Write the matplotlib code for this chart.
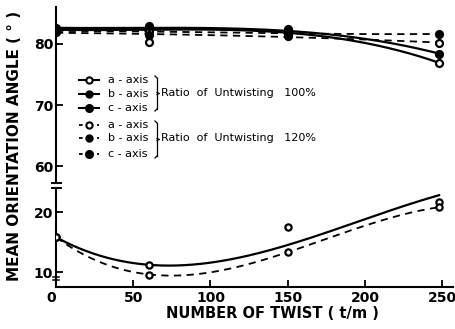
import numpy as np
import matplotlib
matplotlib.use("Agg")
import matplotlib.pyplot as plt
from matplotlib.lines import Line2D

plt.rcParams['font.family'] = ['DejaVu Sans']

# measured twist levels (t/m)
twist = [0, 60, 150, 248]

# orientation angles of the a- and b-axes (upper panel)
a_100 = [82.2, 82.1, 81.6, 76.9]
b_100 = [82.6, 82.9, 82.4, 78.4]
a_120 = [82.0, 80.3, 81.3, 80.2]
b_120 = [82.3, 81.4, 81.6, 81.6]
# hand-fitted trend values at the same twist levels
a_100_fit = [82.3, 82.3, 81.8, 76.9]
b_100_fit = [82.6, 82.6, 82.1, 78.4]
a_120_fit = [81.8, 81.6, 81.1, 80.2]
b_120_fit = [82.1, 82.0, 81.7, 81.6]

# orientation angles of the c-axis (lower panel)
c_100 = [15.8, 11.2, 17.5, 21.7]
c_120 = [15.8, 9.5, 13.3, 20.8]
c_100_fit = [15.8, 11.2, 14.5, 22.8]
c_120_fit = [15.8, 9.6, 13.3, 20.8]

x_ticks = [0, 50, 100, 150, 200, 250]
upper_ticks = [60, 70, 80]
lower_ticks = [10, 20]

W, H = 456, 329
fig = plt.figure(figsize=(W / 100, H / 100), dpi=100)


def fx(px):
    return px / W


def fy(py):
    return 1 - py / H


left, right = fx(56), fx(453)
ax_top = fig.add_axes([left, fy(183), right - left, fy(7) - fy(183)])
ax_bot = fig.add_axes([left, fy(287), right - left, fy(188) - fy(287)])

for ax in (ax_top, ax_bot):
    ax.set_xlim(0, 257)
    ax.spines['top'].set_visible(False)
    ax.spines['right'].set_visible(False)
    ax.spines['left'].set_linewidth(1.5)
    ax.spines['bottom'].set_linewidth(1.5)
    ax.tick_params(direction='in', length=5, width=1.3, labelsize=10, pad=2)
    ax.patch.set_alpha(0)

ax_top.spines['bottom'].set_visible(False)
ax_top.set_xticks([])
ax_top.set_ylim(57.3, 86)
ax_top.set_yticks(upper_ticks)
ax_bot.set_ylim(7.5, 24)
ax_bot.set_yticks(lower_ticks)
ax_bot.set_xticks(x_ticks)
for lab in ax_top.get_yticklabels() + ax_bot.get_yticklabels() + ax_bot.get_xticklabels():
    lab.set_fontweight('bold')
xlabels = ax_bot.get_xticklabels()
xlabels[0].set_horizontalalignment('right')
xlabels[-1].set_horizontalalignment('center')
ax_bot.tick_params(axis='x', pad=3)

xs = np.linspace(twist[0], twist[-1], 200)


def trend(ax, fit, ls, lw):
    coef = np.polyfit(twist, fit, 3)
    ax.plot(xs, np.polyval(coef, xs), color='black', ls=ls, lw=lw,
            dashes=(4, 3) if ls == '--' else (None, None))


def points(ax, vals, filled, ms=5.0):
    ax.plot(twist, vals, ls='none', marker='o', ms=ms, mew=1.6,
            mec='black', mfc='black' if filled else 'white', zorder=5)


trend(ax_top, a_100_fit, '-', 1.6)
trend(ax_top, b_100_fit, '-', 1.6)
trend(ax_top, a_120_fit, '--', 1.3)
trend(ax_top, b_120_fit, '--', 1.3)
points(ax_top, a_100, False)
points(ax_top, b_100, True)
points(ax_top, a_120, False)
points(ax_top, b_120, True)

trend(ax_bot, c_100_fit, '-', 1.6)
trend(ax_bot, c_120_fit, '--', 1.3)
points(ax_bot, c_100, False, 4.5)
points(ax_bot, c_120, False, 4.5)

# axis break marks
for py in (183, 188):
    fig.add_artist(Line2D([fx(52), fx(61)], [fy(py), fy(py)], color='black', lw=1.4))
for py in (277, 280):
    fig.add_artist(Line2D([fx(53), fx(59)], [fy(py), fy(py)], color='black', lw=1.1))

# hand-built legend
rows = [(80, 'a - axis', '-', 'white', 4.5), (94, 'b - axis', '-', 'black', 4.5),
        (108, 'c - axis', '-', 'black', 5.0),
        (125, 'a - axis', ':', 'white', 4.5), (138, 'b - axis', ':', 'black', 4.5),
        (154, 'c - axis', ':', 'black', 5.0)]
for py, label, ls, face, ms in rows:
    fig.add_artist(Line2D([fx(79), fx(99)], [fy(py), fy(py)], color='black',
                          lw=1.5 if ls == '-' else 1.3,
                          ls='-' if ls == '-' else (0, (2, 3))))
    fig.add_artist(Line2D([fx(89)], [fy(py)], ls='none', marker='o', ms=ms, mew=1.5,
                          mec='black', mfc=face))
    fig.text(fx(108), fy(py), label, fontsize=8, va='center', ha='left')


def brace(top, bottom, x):
    mid = (top + bottom) / 2
    segs = [([x - 2, x], [top, top + 2]), ([x, x], [top + 2, mid - 1]),
            ([x, x + 2], [mid - 1, mid]), ([x + 2, x], [mid, mid + 1]),
            ([x, x], [mid + 1, bottom - 2]), ([x, x - 2], [bottom - 2, bottom])]
    for sx, sy in segs:
        fig.add_artist(Line2D([fx(v) for v in sx], [fy(v) for v in sy],
                              color='black', lw=0.9))


brace(76, 111, 157)
brace(121, 158, 157)
fig.text(fx(161), fy(93), 'Ratio  of  Untwisting   100%', fontsize=8, va='center', ha='left')
fig.text(fx(161), fy(138), 'Ratio  of  Untwisting   120%', fontsize=8, va='center', ha='left')

fig.text(fx(272), fy(314), 'NUMBER OF TWIST ( t/m )', fontsize=10.5, fontweight='bold',
         ha='center', va='center')
fig.text(fx(15), fy(146), 'MEAN ORIENTATION ANGLE ( ° )', fontsize=11, fontweight='bold',
         ha='center', va='center', rotation=90)

fig.savefig('out.png', dpi=100)
